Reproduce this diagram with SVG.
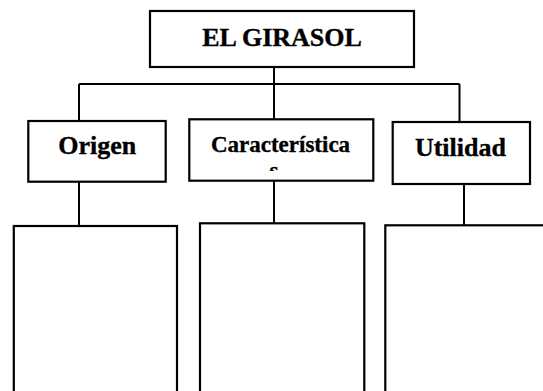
<svg xmlns="http://www.w3.org/2000/svg" width="543" height="391" viewBox="0 0 543 391">
<style>
.box{fill:#fff;stroke:#000;stroke-width:2.2}
.line{fill:none;stroke:#000;stroke-width:2}
.t{font-family:"Liberation Serif","Times New Roman",serif;font-weight:bold;fill:#000;stroke:#000;stroke-width:0.35;text-anchor:middle}
</style>
<defs>
<clipPath id="clipC"><rect x="190" y="120" width="182" height="51"/></clipPath>
</defs>
<rect width="543" height="391" fill="#fff"/>
<g id="connectors">
<path class="line" d="M274 67V120M79 84H459.5M79 84V121M459.5 84V122"/>
<path class="line" d="M79 182V226M274 181V223M464 184V225"/>
</g>
<g id="n-girasol">
<rect class="box" x="150" y="11" width="264" height="56"/>
<text class="t" x="282" y="45.7" font-size="26">EL GIRASOL</text>
</g>
<g id="n-origen">
<rect class="box" x="28.3" y="121" width="137.4" height="60.7"/>
<text class="t" x="97.2" y="154" font-size="26">Origen</text>
</g>
<g id="n-caracteristicas">
<rect class="box" x="189.3" y="119.3" width="184" height="61.4"/>
<g clip-path="url(#clipC)">
<text class="t" x="280.5" y="151.7" font-size="23">Característica</text>
<text class="t" x="274" y="177.5" font-size="23">s</text>
</g>
</g>
<g id="n-utilidad">
<rect class="box" x="392.7" y="122" width="137.3" height="62"/>
<text class="t" x="460.4" y="156" font-size="26">Utilidad</text>
</g>
<g id="n-box1">
<rect class="box" x="13.8" y="226" width="163.2" height="180"/>
</g>
<g id="n-box2">
<rect class="box" x="200" y="223.3" width="164.3" height="180"/>
</g>
<g id="n-box3">
<rect class="box" x="385.3" y="225.3" width="180" height="180"/>
</g>
</svg>
